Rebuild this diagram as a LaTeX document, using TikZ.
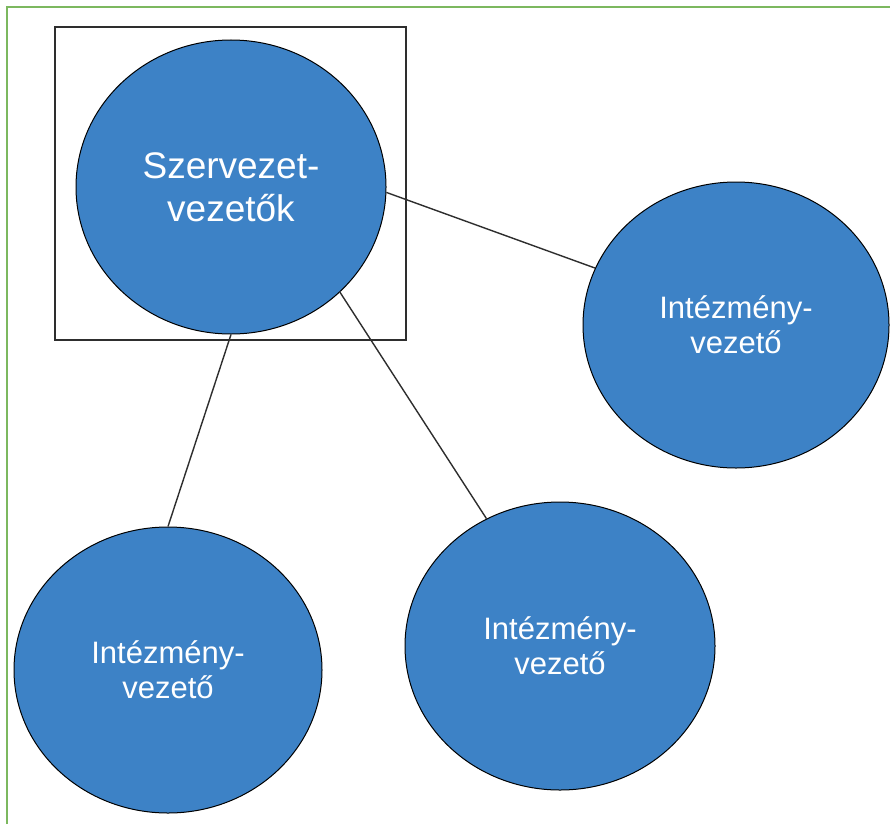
\documentclass[tikz,border=0pt]{standalone}
\usepackage{fontspec}
\setmainfont{Liberation Sans}
\usetikzlibrary{shapes.geometric}
\definecolor{nodeblue}{HTML}{3D82C6}
\definecolor{framegreen}{HTML}{7CB85F}
\definecolor{edgegray}{HTML}{2E2E2E}
\tikzset{
  blob/.style={ellipse, draw=black, line width=1pt, fill=nodeblue, text=white,
    inner sep=0pt, align=center},
  small/.style={font=\fontsize{31}{35}\selectfont},
  link/.style={draw=edgegray, line width=1.4pt},
}
\begin{document}
\begin{tikzpicture}[x=1pt,y=-1pt]
\useasboundingbox (0,0) rectangle (890,824);
\fill[white] (0,0) rectangle (890,824);
\draw[framegreen, line width=2pt] (7,824) -- (7,7) -- (890,7);
\node[draw=edgegray, line width=1.5pt, rectangle, minimum width=351pt, minimum height=313pt, inner sep=0pt] (box) at (230.5,183.5) {};
\node[blob, minimum width=310pt, minimum height=294pt, font=\fontsize{37}{43}\selectfont] (t) at (231,187) {Szervezet-\\vezetők};
\node[blob, small, minimum width=306pt, minimum height=286pt] (r) at (736,325) {Intézmény-\\vezető};
\node[blob, small, minimum width=308pt, minimum height=286pt] (bl) at (168,670) {Intézmény-\\vezető};
\node[blob, small, minimum width=310pt, minimum height=288pt] (bm) at (560,646) {Intézmény-\\vezető};
\draw[link] (t.-2) -- (r.158);
\draw[link] (t.-90) -- (bl.90);
\draw[link] (t.-44) -- (bm.120);
\end{tikzpicture}
\end{document}
